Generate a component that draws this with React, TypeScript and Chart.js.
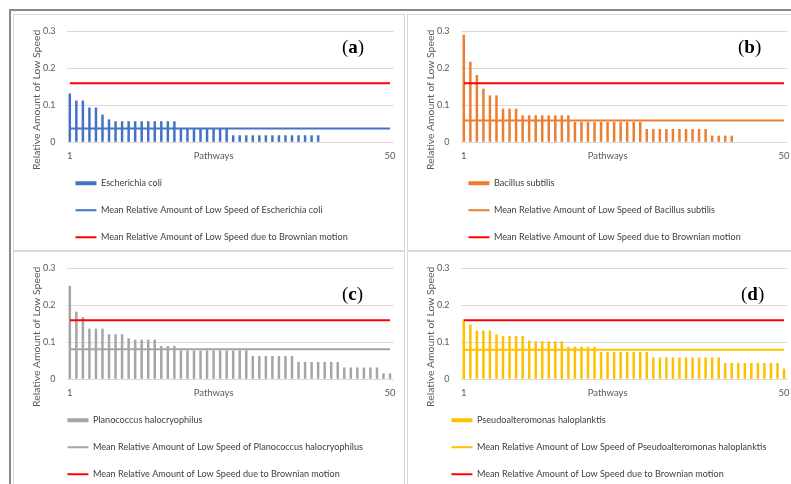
import React, { useEffect, useRef } from 'react';
import { Chart, registerables } from 'chart.js';

Chart.register(...registerables);

const pathways = [
  '1', '2', '3', '4', '5', '6', '7', '8', '9', '10',
  '11', '12', '13', '14', '15', '16', '17', '18', '19', '20',
  '21', '22', '23', '24', '25', '26', '27', '28', '29', '30',
  '31', '32', '33', '34', '35', '36', '37', '38', '39', '40',
  '41', '42', '43', '44', '45', '46', '47', '48', '49', '50',
];

const escherichia = [
  0.132, 0.113, 0.113, 0.094, 0.094, 0.075, 0.062, 0.057, 0.057, 0.057,
  0.057, 0.057, 0.057, 0.057, 0.057, 0.057, 0.057, 0.038, 0.038, 0.038,
  0.038, 0.038, 0.038, 0.038, 0.038, 0.019, 0.019, 0.019, 0.019, 0.019,
  0.019, 0.019, 0.019, 0.019, 0.019, 0.019, 0.019, 0.019, 0.019, 0,
  0, 0, 0, 0, 0, 0, 0, 0, 0, 0,
];

const bacillus = [
  0.291, 0.218, 0.182, 0.145, 0.127, 0.127, 0.091, 0.091, 0.091, 0.073,
  0.073, 0.073, 0.073, 0.073, 0.073, 0.073, 0.073, 0.055, 0.055, 0.055,
  0.055, 0.055, 0.055, 0.055, 0.055, 0.055, 0.055, 0.055, 0.036, 0.036,
  0.036, 0.036, 0.036, 0.036, 0.036, 0.036, 0.036, 0.036, 0.018, 0.018,
  0.018, 0.018, 0, 0, 0, 0, 0, 0, 0, 0,
];

const planococcus = [
  0.253, 0.183, 0.168, 0.137, 0.137, 0.137, 0.122, 0.122, 0.122, 0.111,
  0.107, 0.107, 0.107, 0.107, 0.090, 0.090, 0.090, 0.078, 0.078, 0.078,
  0.078, 0.078, 0.078, 0.078, 0.078, 0.078, 0.078, 0.078, 0.063, 0.063,
  0.063, 0.063, 0.063, 0.063, 0.063, 0.047, 0.047, 0.047, 0.047, 0.047,
  0.047, 0.047, 0.032, 0.032, 0.032, 0.032, 0.032, 0.032, 0.016, 0.016,
];

const pseudoalteromonas = [
  0.162, 0.148, 0.132, 0.132, 0.132, 0.121, 0.117, 0.117, 0.117, 0.117,
  0.105, 0.103, 0.103, 0.103, 0.103, 0.103, 0.088, 0.088, 0.088, 0.088,
  0.088, 0.074, 0.074, 0.074, 0.074, 0.074, 0.074, 0.074, 0.074, 0.059,
  0.059, 0.059, 0.059, 0.059, 0.059, 0.059, 0.059, 0.059, 0.059, 0.059,
  0.044, 0.044, 0.044, 0.044, 0.044, 0.044, 0.044, 0.044, 0.044, 0.029,
];

const meanEscherichia = 0.037;
const meanBacillus = 0.059;
const meanPlanococcus = 0.081;
const meanPseudoalteromonas = 0.08;
const brownianMean = 0.16;

const yTickValues = [0, 0.1, 0.2, 0.3];
const xAxisTitle = 'Pathways';
const yAxisTitle = 'Relative Amount of Low Speed';
const brownianLabel = 'Mean Relative Amount of Low Speed due to Brownian motion';

const FONT = 'Lato, "Open Sans", "Liberation Sans", sans-serif';
const TEXT = '#595959';

const makeAdjustPlugin = (legendShift: number) => ({
  id: 'adjustPositions',
  afterLayout(chart: any) {
    const lg = chart.legend;
    if (lg) {
      lg.left += legendShift;
      lg.top -= 8.25;
      lg.bottom -= 8.25;
    }
    const y = chart.scales.y;
    if (y) {
      y.top += 13;
      y.bottom += 13;
    }
  },
});

type PanelProps = {
  values: number[];
  mean: number;
  color: string;
  name: string;
  meanLabel: string;
  left: number;
  top: number;
  legendShift: number;
};

function PanelChart({ values, mean, color, name, meanLabel, left, top, legendShift }: PanelProps) {
  const ref = useRef<HTMLCanvasElement | null>(null);
  useEffect(() => {
    if (!ref.current) return;
    const chart = new Chart(ref.current, {
      type: 'bar',
      data: {
        labels: pathways,
        datasets: [
          {
            type: 'bar',
            label: name,
            data: values,
            backgroundColor: color,
            borderWidth: 0,
            barThickness: 2.5,
            inflateAmount: 0,
            order: 3,
            clip: false,
          } as any,
          {
            type: 'line',
            label: meanLabel,
            data: pathways.map(() => mean),
            borderColor: color,
            backgroundColor: color,
            borderWidth: 2,
            pointRadius: 0,
            order: 2,
          } as any,
          {
            type: 'line',
            label: brownianLabel,
            data: pathways.map(() => brownianMean),
            borderColor: '#FF0000',
            backgroundColor: '#FF0000',
            borderWidth: 2,
            pointRadius: 0,
            order: 1,
          } as any,
        ],
      },
      options: {
        animation: false,
        responsive: false,
        devicePixelRatio: 1,
        events: [],
        layout: { padding: { left: 12.5, right: 10.7, top: 12.7, bottom: 2.9 } },
        scales: {
          x: {
            offset: true,
            grid: { display: false, drawTicks: false, tickLength: 0 },
            border: { display: false },
            ticks: {
              autoSkip: false,
              maxRotation: 0,
              minRotation: 0,
              padding: 7.7,
              color: TEXT,
              font: { family: FONT, size: 9.5 },
              callback: (_v: any, i: number) =>
                i === 0 ? pathways[0] : i === pathways.length - 1 ? pathways[pathways.length - 1] : i === 22 ? xAxisTitle : '',
            },
          },
          y: {
            min: yTickValues[0],
            max: yTickValues[yTickValues.length - 1],
            grid: { color: '#d9d9d9', drawTicks: false, tickLength: 0, lineWidth: 1 },
            border: { display: false },
            ticks: {
              stepSize: 0.1,
              padding: 11,
              color: TEXT,
              font: { family: FONT, size: 9 },
              callback: (v: any) => String(Math.round(Number(v) * 10) / 10),
            },
            title: {
              display: true,
              text: yAxisTitle,
              color: TEXT,
              font: { family: FONT, size: 10.4 },
              padding: { top: 4, bottom: -11 },
            },
          },
        },
        plugins: {
          legend: {
            position: 'bottom',
            align: 'start',
            fullSize: false,
            labels: {
              usePointStyle: true,
              pointStyleWidth: 21,
              boxHeight: 4,
              padding: 17.9,
              color: '#404040',
              font: { family: FONT, size: 9.1 },
              generateLabels: (c: any) =>
                c.data.datasets.map((ds: any, i: number) => ({
                  text: ds.label,
                  fillStyle: i === 0 ? ds.backgroundColor : 'transparent',
                  strokeStyle: i === 0 ? ds.backgroundColor : ds.borderColor,
                  lineWidth: i === 0 ? 0 : 2,
                  pointStyle: i === 0 ? 'rect' : 'line',
                  hidden: false,
                  datasetIndex: i,
                  fontColor: '#404040',
                })),
            },
          },
          tooltip: { enabled: false },
        },
      } as any,
      plugins: [makeAdjustPlugin(legendShift)],
    });
    return () => chart.destroy();
  }, [values, mean, color, name, meanLabel, legendShift]);
  return (
    <canvas
      ref={ref}
      width={390}
      height={248}
      style={{ position: 'absolute', left, top, width: 390, height: 248, display: 'block' }}
    />
  );
}

function PanelLabel({ letter, left, top }: { letter: string; left: number; top: number }) {
  return (
    <div
      style={{
        position: 'absolute',
        left,
        top,
        fontFamily: '"Liberation Serif", "DejaVu Serif", serif',
        fontSize: 19,
        lineHeight: '20px',
        color: '#000',
        whiteSpace: 'nowrap',
      }}
    >
      (<b>{letter}</b>)
    </div>
  );
}

const boxStyle = (left: number, top: number, width: number, height: number): React.CSSProperties => ({
  position: 'absolute',
  left,
  top,
  width,
  height,
  boxSizing: 'border-box',
  border: '1px solid #d9d9d9',
  background: '#fff',
});

export default function App() {
  return (
    <div
      style={{
        position: 'fixed',
        left: 0,
        top: 0,
        width: 791,
        height: 484,
        overflow: 'hidden',
        background: '#fff',
      }}
    >
      <div
        style={{
          position: 'absolute',
          left: 9,
          top: 9,
          width: 900,
          height: 600,
          borderLeft: '2px solid #8a8a8a',
          borderTop: '2px solid #8a8a8a',
        }}
      />
      <div style={boxStyle(13, 14, 392, 237)} />
      <div style={boxStyle(407, 14, 400, 237)} />
      <div style={boxStyle(13, 251, 392, 300)} />
      <div style={boxStyle(407, 251, 400, 300)} />
      <PanelChart
        values={escherichia}
        mean={meanEscherichia}
        color="#4472C4"
        name="Escherichia coli"
        meanLabel="Mean Relative Amount of Low Speed of Escherichia coli"
        left={14}
        top={15}
        legendShift={-9}
      />
      <PanelChart
        values={bacillus}
        mean={meanBacillus}
        color="#ED7D31"
        name="Bacillus subtilis"
        meanLabel="Mean Relative Amount of Low Speed of Bacillus subtilis"
        left={408}
        top={15}
        legendShift={-10}
      />
      <PanelChart
        values={planococcus}
        mean={meanPlanococcus}
        color="#A5A5A5"
        name="Planococcus halocryophilus"
        meanLabel="Mean Relative Amount of Low Speed of Planococcus halocryophilus"
        left={14}
        top={252}
        legendShift={-17}
      />
      <PanelChart
        values={pseudoalteromonas}
        mean={meanPseudoalteromonas}
        color="#FFC000"
        name="Pseudoalteromonas haloplanktis"
        meanLabel="Mean Relative Amount of Low Speed of Pseudoalteromonas haloplanktis"
        left={408}
        top={252}
        legendShift={-27}
      />
      <PanelLabel letter="a" left={342} top={37} />
      <PanelLabel letter="b" left={738} top={37} />
      <PanelLabel letter="c" left={342} top={284} />
      <PanelLabel letter="d" left={741} top={284} />
    </div>
  );
}
